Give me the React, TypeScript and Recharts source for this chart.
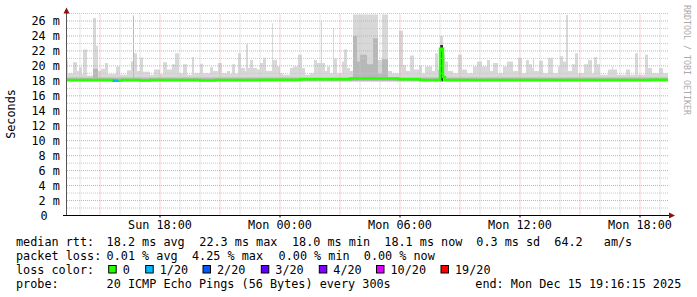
import React from 'react';
import { ComposedChart, Area, Line, XAxis, YAxis, ReferenceLine } from 'recharts';

// ---------- data (hours since Sun 00:00, values in ms) ----------
const startHour = 13.35;
const endHour = 43.4;
const smokeLow = 17.95;

const smokeHours = [
  13.35, 13.4, 13.65, 13.85, 13.95, 14.1, 14.15, 14.35, 14.65, 14.8, 14.9, 15.05, 15.25, 15.4, 15.8, 16.0,
  16.35, 16.55, 16.65, 16.7, 16.85, 17.0, 17.15, 17.5, 17.7, 18.0, 18.15, 18.35, 18.6, 18.75, 18.95, 19.15,
  19.35, 19.6, 19.7, 20.0, 20.15, 20.5, 20.65, 20.9, 21.1, 21.35, 21.5, 21.6, 21.75, 21.9, 22.05, 22.25,
  22.3, 22.4, 22.5, 22.65, 22.85, 23.0, 23.15, 23.3, 23.6, 23.65, 23.85, 24.0, 24.15, 24.5, 24.65, 24.9,
  25.1, 25.25, 25.5, 25.7, 25.85, 26.05, 26.1, 26.25, 26.35, 26.5, 26.65, 26.7, 26.85, 27.1, 27.2, 27.35,
  27.5, 27.65, 28.9, 29.1, 29.4, 29.6, 29.95, 30.15, 30.3, 30.5, 30.7, 30.95, 31.1, 31.25, 31.6, 31.75,
  31.9, 32.0, 32.15, 32.25, 32.4, 32.65, 32.9, 33.1, 33.35, 33.65, 33.85, 34.1, 34.35, 34.5, 34.65, 34.9,
  35.15, 35.35, 35.65, 35.9, 36.1, 36.3, 36.45, 36.6, 36.65, 36.7, 36.95, 37.15, 37.4, 37.65, 37.9, 38.0,
  38.15, 38.3, 38.4, 38.6, 38.75, 38.9, 39.2, 39.4, 39.6, 39.7, 39.85, 40.0, 40.4, 40.6, 40.65, 40.85,
  41.3, 41.5, 41.75, 41.9, 42.25, 42.4, 42.6, 42.95, 43.15,
];
const smokeMax = [
  20.8, 19.0, 20.5, 19.3, 19.8, 18.9, 22.2, 18.7, 26.4, 22.7, 19.3, 19.6, 20.4, 18.9, 19.9, 18.8,
  19.4, 20.6, 26.8, 21.7, 19.3, 21.1, 19.2, 18.8, 19.5, 18.9, 20.5, 19.5, 20.2, 21.7, 19.0, 20.2,
  18.8, 21.2, 19.0, 20.3, 19.0, 19.8, 19.3, 20.4, 19.0, 19.3, 18.9, 20.2, 18.9, 21.7, 19.7, 19.3,
  22.9, 19.7, 20.8, 19.7, 19.5, 20.4, 21.1, 19.3, 25.7, 20.8, 19.9, 19.0, 18.8, 19.7, 19.9, 21.5,
  19.7, 18.8, 19.0, 20.8, 20.4, 26.0, 20.4, 19.3, 19.9, 19.0, 25.1, 21.0, 19.0, 20.6, 22.2, 19.7,
  19.3, 26.85, 20.8, 26.85, 19.3, 19.0, 24.7, 20.1, 19.3, 21.4, 19.5, 20.0, 19.0, 19.9, 19.3, 21.7,
  19.5, 24.0, 21.5, 20.6, 19.3, 19.0, 21.5, 19.5, 19.0, 19.9, 20.6, 19.9, 20.8, 19.3, 20.4, 19.0,
  19.9, 20.6, 19.3, 21.1, 19.0, 20.8, 20.2, 19.7, 21.1, 19.3, 20.7, 19.0, 21.1, 19.0, 19.9, 21.3,
  20.6, 26.8, 19.3, 20.2, 21.7, 19.0, 20.2, 20.8, 19.0, 21.2, 20.2, 18.8, 19.5, 19.9, 19.5, 18.8,
  19.5, 18.8, 21.7, 18.8, 21.5, 19.7, 19.0, 19.7, 19.0,
];

const innerHours = [13.35, 14.65, 14.9, 16.65, 16.7, 27.65, 27.85, 28.0, 28.35, 28.65, 28.9, 29.1, 29.4];
const innerTop = [18.45, 19.6, 18.45, 26.6, 18.45, 24.0, 20.6, 21.5, 20.2, 23.7, 19.0, 20.9, 18.45];

const darkHours = [13.35, 32.0, 32.15];
const darkTop: (number | null)[] = [null, 22.8, null];

const medianHours = [13.35, 15.65, 15.9, 16.1, 17.0, 17.5, 20.0, 20.75, 23.0, 25.0, 27.5, 29.9, 31.0, 32.0, 32.15, 32.25, 42.5];
const medianValue = [18.1, 18.0, 18.05, 18.1, 18.05, 18.1, 18.05, 18.1, 18.15, 18.2, 18.3, 18.2, 18.1, 22.3, 18.5, 18.1, 18.15];

const lossHours = [13.35, 15.65, 15.9];
const lossLevel = [0, 1, 0];

const xTickHours = [18, 24, 30, 36, 42];
const xTickLabels = ['Sun 18:00', 'Mon 00:00', 'Mon 06:00', 'Mon 12:00', 'Mon 18:00'];
const yTicks = [0, 2, 4, 6, 8, 10, 12, 14, 16, 18, 20, 22, 24, 26];
const yTickLabels = ['0', '2 m', '4 m', '6 m', '8 m', '10 m', '12 m', '14 m', '16 m', '18 m', '20 m', '22 m', '24 m', '26 m'];
const minorYLines = [1, 3, 5, 7, 9, 11, 13, 15, 17, 19, 21, 23, 25, 27];
const majorYLines = [2, 4, 6, 8, 10, 12, 14, 16, 18, 20, 22, 24, 26];
const minorXLines = [14, 16, 17, 19, 20, 22, 23, 25, 26, 28, 29, 31, 32, 34, 35, 37, 38, 40, 41, 43];
const majorXLines = [15, 18, 21, 24, 27, 30, 33, 36, 39, 42];

const rttStats = ['median rtt:', '18.2 ms avg', '22.3 ms max', '18.0 ms min', '18.1 ms now', '0.3 ms sd', '64.2', 'am/s'];
const lossStats = ['packet loss:', '0.01 % avg', '4.25 % max', '0.00 % min', '0.00 % now'];
const lossLabels = ['0', '1/20', '2/20', '3/20', '4/20', '10/20', '19/20'];
const lossColors = ['#26ff00', '#00b8ff', '#0059ff', '#5e00ff', '#7e00ff', '#dd00ff', '#ff0000'];
const probeText = ['probe:', '20 ICMP Echo Pings (56 Bytes) every 300s', 'end: Mon Dec 15 19:16:15 2025'];

// ---------- table ----------
function stepAt<T>(hours: number[], vals: T[], t: number): T {
  let v = vals[0];
  for (let i = 0; i < hours.length; i++) {
    if (hours[i] <= t + 1e-9) v = vals[i];
    else break;
  }
  return v;
}

const allTimes = Array.from(
  new Set([...smokeHours, ...innerHours, ...darkHours, ...medianHours, ...lossHours, endHour])
).sort((a, b) => a - b);

const table = allTimes.map((t, i) => {
  const max = stepAt(smokeHours, smokeMax, t);
  const inner = Math.min(stepAt(innerHours, innerTop, t), max);
  const dark = stepAt(darkHours, darkTop, t);
  const med = stepAt(medianHours, medianValue, t);
  const loss = stepAt(lossHours, lossLevel, t);
  const prevLoss = i > 0 ? stepAt(lossHours, lossLevel, allTimes[i - 1]) : 0;
  return {
    t,
    light: [smokeLow, max],
    inner: [smokeLow, inner],
    dark: dark == null ? [smokeLow, smokeLow] : [smokeLow, dark],
    med,
    medLoss1: loss === 1 || prevLoss === 1 ? med : null,
  };
});

// ---------- styles ----------
const FONT = '"DejaVu Sans Mono", "Liberation Mono", monospace';
const FS = 11.8;
const MAJOR = '#eaa0a0';
const MINOR = '#c8c8c8';

const XTick = (props: any) => {
  const { x, y, payload } = props;
  const i = xTickHours.indexOf(payload.value);
  return (
    <g>
      <line x1={x} y1={y} x2={x} y2={y + 2} stroke="#000" />
      <text x={x} y={y + 13.2} textAnchor="middle" fontFamily={FONT} fontSize={FS} fill="#000">
        {xTickLabels[i]}
      </text>
    </g>
  );
};

const YTick = (props: any) => {
  const { x, y, payload } = props;
  const i = yTicks.indexOf(payload.value);
  const ax = payload.value === 0 ? x - 19.5 : x - 7.2;
  return (
    <text x={ax} y={y + 4} textAnchor="end" fontFamily={FONT} fontSize={FS} fill="#000">
      {yTickLabels[i]}
    </text>
  );
};

const rttX = [16, 106.6, 199.3, 292, 384.3, 476.3, 554.3, 603.8];
const lossX = [16, 106.6, 192, 278.6, 363.8];
const boxX = [108.7, 145.7, 203, 261.3, 319.3, 376.5, 441];
const probeX = [16, 106.6, 475.3];

export default function App() {
  return (
    <div style={{ position: 'absolute', left: 0, top: 0, width: 697, height: 297, background: '#fff' }}>
      <ComposedChart
        width={697}
        height={297}
        data={table}
        margin={{ top: 13.5, right: 29, left: 0, bottom: 0 }}
      >
        <XAxis
          dataKey="t"
          type="number"
          domain={[startHour, endHour]}
          ticks={xTickHours}
          interval={0}
          allowDataOverflow
          height={81.5}
          tickSize={0}
          tickMargin={0}
          axisLine={false}
          tickLine={false}
          tick={<XTick />}
        />
        <YAxis
          type="number"
          domain={[0, 27]}
          ticks={yTicks}
          interval={0}
          allowDataOverflow
          width={67}
          tickSize={0}
          tickMargin={0}
          axisLine={false}
          tickLine={false}
          tick={<YTick />}
        />
        <Area
          dataKey="light"
          type="stepAfter"
          stroke="none"
          fill="#d8d8d8"
          fillOpacity={1}
          isAnimationActive={false}
          dot={false}
          activeDot={false}
        />
        <Area
          dataKey="inner"
          type="stepAfter"
          stroke="none"
          fill="#b8b8b8"
          fillOpacity={1}
          isAnimationActive={false}
          dot={false}
          activeDot={false}
        />
        <Area
          dataKey="dark"
          type="stepAfter"
          stroke="none"
          fill="#2a2a2a"
          fillOpacity={1}
          isAnimationActive={false}
          dot={false}
          activeDot={false}
        />
        {minorYLines.map((v) => (
          <ReferenceLine key={'my' + v} y={v} stroke={MINOR} strokeDasharray="1 1" />
        ))}
        {majorYLines.map((v) => (
          <ReferenceLine key={'My' + v} y={v} stroke={MAJOR} strokeDasharray="1 1" />
        ))}
        {minorXLines.map((v) => (
          <ReferenceLine key={'mx' + v} x={v} stroke={MINOR} strokeDasharray="1 1" />
        ))}
        {majorXLines.map((v) => (
          <ReferenceLine key={'Mx' + v} x={v} stroke={MAJOR} strokeDasharray="1 1" />
        ))}
        <Line
          dataKey="med"
          type="stepAfter"
          stroke={lossColors[0]}
          strokeWidth={2.5}
          dot={false}
          activeDot={false}
          isAnimationActive={false}
        />
        <Line
          dataKey="medLoss1"
          type="stepAfter"
          stroke={lossColors[1]}
          strokeWidth={2.5}
          dot={false}
          activeDot={false}
          connectNulls={false}
          isAnimationActive={false}
        />
      </ComposedChart>
      <svg
        width={697}
        height={297}
        style={{ position: 'absolute', left: 0, top: 0, pointerEvents: 'none' }}
        fontFamily={FONT}
        fontSize={FS}
      >
        {/* axes */}
        <line x1={66.5} y1={10} x2={66.5} y2={216} stroke="#555" strokeWidth={1} />
        <line x1={63} y1={215.5} x2={671} y2={215.5} stroke="#000" strokeWidth={1} />
        <polygon points="63.5,13.5 69.5,13.5 66.5,7.5" fill="#8b1010" />
        <polygon points="669,212.5 669,218.5 675,215.5" fill="#8b1010" />
        {/* axis title */}
        <text x={0} y={0} transform="translate(10.5 114) rotate(-90)" textAnchor="middle" dominantBaseline="central" fill="#000">
          Seconds
        </text>
        <text
          x={0}
          y={0}
          transform="translate(687 60) rotate(90)"
          textAnchor="middle"
          dominantBaseline="central"
          fontSize={8.3}
          fill="#aaaaaa"
        >
          RRDTOOL / TOBI OETIKER
        </text>
        {/* legend */}
        {rttStats.map((s, i) => (
          <text key={'r' + i} x={rttX[i]} y={245.8} fill="#000">{s}</text>
        ))}
        {lossStats.map((s, i) => (
          <text key={'l' + i} x={lossX[i]} y={259.7} fill="#000">{s}</text>
        ))}
        <text x={16} y={273.6} fill="#000">loss color:</text>
        {lossLabels.map((s, i) => (
          <g key={'c' + i}>
            <rect x={boxX[i]} y={265.5} width={7.5} height={7.5} fill={lossColors[i]} stroke="#000" strokeWidth={1} />
            <text x={boxX[i] + 14} y={273.6} fill="#000">{s}</text>
          </g>
        ))}
        {probeText.map((s, i) => (
          <text key={'p' + i} x={probeX[i]} y={287.5} fill="#000" style={{ whiteSpace: 'pre' }}>{s}</text>
        ))}
      </svg>
    </div>
  );
}
